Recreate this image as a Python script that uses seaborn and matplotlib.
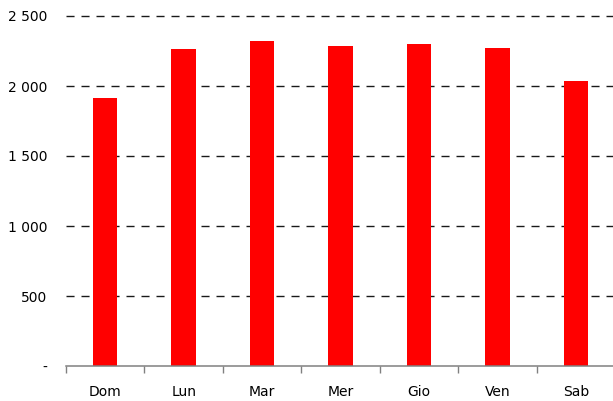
import matplotlib
matplotlib.use("Agg")
import matplotlib.pyplot as plt
import seaborn as sns
import pandas as pd
from matplotlib.ticker import FixedLocator, FuncFormatter

days = ["Dom", "Lun", "Mar", "Mer", "Gio", "Ven", "Sab"]
values = [1914, 2264, 2321, 2286, 2300, 2271, 2036]
yticks = [0, 500, 1000, 1500, 2000, 2500]

df = pd.DataFrame({"day": days, "value": values})

sns.set_style("white")
plt.rcParams["font.family"] = ["DejaVu Sans"]

fig = plt.figure(figsize=(6.13, 4.01), dpi=100)
ax = fig.add_axes([66 / 613, 35 / 401, 549 / 613, 350 / 401])

sns.barplot(data=df, x="day", y="value", color="#ff0000", saturation=1,
            width=0.31, ax=ax, zorder=3, linewidth=0, edgecolor="none")

ax.set_xlim(-0.5, len(days) - 0.5)
ax.set_ylim(0, 2500)
ax.set_yticks(yticks)

def fmt(v, pos):
    if v == 0:
        return "-"
    return f"{int(v):,}".replace(",", " ")

ax.yaxis.set_major_formatter(FuncFormatter(fmt))
for y in yticks[1:]:
    ax.axhline(y, color="#1a1a1a", lw=1.0, dashes=(5.8, 5.0), zorder=1, clip_on=False)

ax.set_xlabel("")
ax.set_ylabel("")
for s in ["left", "right", "top"]:
    ax.spines[s].set_visible(False)
ax.spines["bottom"].set_color("#808080")
ax.spines["bottom"].set_linewidth(1.1)
ax.spines["bottom"].set_zorder(4)

ax.xaxis.set_minor_locator(FixedLocator([i - 0.5 for i in range(len(days) + 1)]))
ax.tick_params(axis="x", which="minor", length=5, width=1, color="#808080", direction="out", bottom=True)
ax.tick_params(axis="x", which="major", length=0, pad=13.5, labelsize=10, labelcolor="#000000")
ax.tick_params(axis="y", which="major", length=0, pad=13.5, labelsize=10, labelcolor="#000000")

fig.savefig("out.png", dpi=100)
